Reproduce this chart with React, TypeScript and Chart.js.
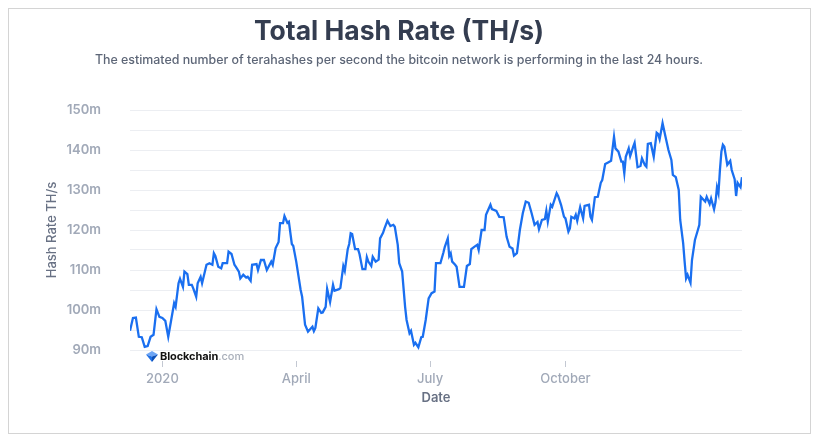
import React, { useEffect, useRef } from "react";
import { Chart, registerables } from "chart.js";

Chart.register(...registerables);

// Days since 10 Dec 2019
const days = [
  0, 2, 4, 6, 8, 10, 12, 14, 16, 18, 20, 22, 24, 26, 28, 30, 31, 33, 34, 36, 37, 39, 40, 42, 43, 45, 46, 48, 49,
  52, 54, 56, 57, 58, 60, 62, 63, 66, 67, 69, 71, 72, 74, 75, 77, 79, 80, 82, 83, 86, 87, 89, 91, 93, 96, 97, 99,
  101, 102, 104, 105, 107, 108, 110, 111, 113, 116, 117, 119, 121, 122, 124, 125, 126, 128, 130, 131, 133, 134,
  136, 138, 139, 142, 143, 145, 146, 148, 149, 150, 151, 153, 155, 156, 158, 160, 161, 162, 164, 165, 167, 169,
  170, 172, 173, 175, 177, 179, 180, 182, 183, 185, 187, 188, 190, 191, 193, 194, 196, 198, 199, 201, 203, 205,
  207, 208, 210, 211, 213, 214, 216, 217, 218, 219, 221, 222, 224, 227, 229, 231, 232, 234, 236, 237, 239, 241,
  242, 245, 246, 249, 251, 254, 256, 258, 260, 261, 263, 265, 267, 269, 271, 273, 275, 277, 278, 280, 282, 283,
  284, 286, 287, 290, 291, 293, 295, 296, 298, 299, 300, 302, 303, 304, 306, 308, 309, 312, 313, 314, 316, 318,
  320, 321, 323, 325, 327, 329, 330, 332, 334, 335, 336, 337, 339, 340, 342, 343, 345, 347, 348, 350, 351, 352,
  354, 356, 358, 359, 360, 362, 364, 366, 368, 369, 371, 373, 374, 376, 377, 378, 379, 381, 382, 384, 386, 387,
  388, 390, 391, 392, 394, 395, 397, 398, 399, 400, 401, 402, 403, 404, 406, 408, 409, 411, 412, 413, 415, 416,
];

// Hash rate, millions of TH/s
const hashRate = [
  94.8, 98, 98.1, 93.3, 93.2, 90.8, 91, 93.3, 93.8, 100.2, 98.3, 98, 97.3, 93.3, 97.5, 101.7, 100.8, 106.7, 107.8,
  105.8, 109.6, 109, 106.3, 106.3, 105.4, 103.3, 106.7, 108.3, 106.7, 111.3, 111.7, 111.3, 114.2, 113.5, 110.8,
  110.4, 111.7, 111.7, 114.6, 114, 111.3, 110.8, 109.6, 107.9, 108.8, 108.1, 108.3, 107.3, 111.3, 111.5, 110,
  112.5, 112.5, 110, 112.1, 111.3, 115.5, 117, 121.7, 121.7, 123.5, 121.8, 122.1, 116.5, 116, 112.1, 105, 103.3,
  96.3, 94.6, 95, 95.8, 94.7, 95.5, 100.4, 99.3, 99.4, 100.8, 105.3, 102, 106.3, 104.8, 105.2, 105.5, 111, 109.8,
  115.2, 116.5, 119.2, 119, 115.2, 115.2, 114, 110.2, 110.2, 113.2, 112.1, 111, 113.3, 112.1, 112.6, 117.9, 119.3,
  120.4, 122.3, 121, 121.3, 120.8, 116.3, 111.7, 109.6, 100.8, 97.5, 94.2, 94.8, 91.3, 91.8, 90.7, 93.2, 93.3,
  97.5, 102.9, 104.2, 104.6, 111.7, 111.7, 111.7, 114.3, 115.8, 117.9, 113.5, 114.2, 112.1, 111.3, 110.8, 105.8,
  105.8, 111, 111.5, 115.2, 115.8, 116.3, 115, 120, 120, 123.8, 126.3, 125.2, 124.8, 123.3, 123.2, 118.3, 115.8,
  115.4, 113.6, 114.2, 120, 124.2, 127.1, 126.8, 124.2, 121.3, 122, 120.2, 122.5, 122.7, 124.8, 122.1, 126.3,
  125.8, 129.2, 128.5, 126.3, 123.3, 122.9, 119.6, 120.4, 123.3, 122.9, 123.8, 122.3, 125.7, 122.9, 126, 126.3,
  123.3, 122.5, 128.2, 128.3, 131.8, 132.5, 136.5, 136.9, 137.3, 143.3, 140.4, 139.6, 137.1, 137.1, 134.2, 138.3,
  140.4, 138.5, 140.8, 141.8, 135.7, 136, 137.9, 136.2, 135.8, 141.5, 141.7, 138.3, 144.3, 144, 142.7, 146.7,
  143.3, 140, 137.5, 133.8, 133.2, 130, 122.5, 116.7, 112.1, 107.9, 108.8, 106.8, 112.5, 117.5, 120, 121.3,
  128.3, 127.5, 127.1, 128.3, 126.5, 127.9, 125.2, 127, 130.7, 129.2, 135, 139.6, 141.3, 140.8, 136.3, 137.3,
  135, 132.7, 128.5, 131.8, 130.7, 133.2,
];

const xTickDays = [22, 113, 204, 296];
const xTickLabels = ["2020", "April", "July", "October"];
const xMax = 416;
const yMin = 90;
const yMax = 150;
const yStep = 5;

const tickMarks = {
  id: "tickMarks",
  afterDraw(chart: any) {
    const { ctx, scales } = chart;
    const xs = scales.x;
    ctx.save();
    ctx.strokeStyle = "#c3c8d2";
    ctx.lineWidth = 1;
    xTickDays.forEach((d) => {
      const px = Math.round(xs.getPixelForValue(d)) + 0.5;
      ctx.beginPath();
      ctx.moveTo(px, 353);
      ctx.lineTo(px, 359);
      ctx.stroke();
    });
    ctx.restore();
  },
};

export default function App() {
  const ref = useRef<HTMLCanvasElement>(null);

  useEffect(() => {
    if (!ref.current) return;
    const chart = new Chart(ref.current, {
      type: "line",
      data: {
        datasets: [
          {
            data: days.map((d, i) => ({ x: d, y: hashRate[i] })),
            borderColor: "#1a6ff0",
            borderWidth: 2.3,
            pointRadius: 0,
            tension: 0,
            fill: false,
          },
        ],
      },
      options: {
        animation: false,
        responsive: false,
        maintainAspectRatio: false,
        layout: { padding: { left: 0, right: 69, top: 102, bottom: 0 } },
        plugins: {
          legend: { display: false },
          tooltip: { enabled: false },
        },
        scales: {
          x: {
            type: "linear",
            min: 0,
            max: xMax,
            afterBuildTicks: (s: any) => {
              s.ticks = xTickDays.map((v) => ({ value: v }));
            },
            afterFit: (s: any) => {
              s.height = 84;
            },
            ticks: {
              autoSkip: false,
              maxRotation: 0,
              padding: 21,
              color: "#a1a9b8",
              font: { family: "Inter", size: 13, weight: "500" },
              callback: (v: any) => {
                const i = xTickDays.indexOf(Number(v));
                return i >= 0 ? xTickLabels[i] : "";
              },
            },
            grid: { display: false, drawTicks: false },
            border: { display: false },
            title: {
              display: true,
              text: "Date",
              color: "#687184",
              font: { family: "Inter", size: 13, weight: "600" },
              padding: { top: 0, bottom: 28 },
            },
          },
          y: {
            min: yMin,
            max: yMax,
            afterFit: (s: any) => {
              s.width = 122;
            },
            ticks: {
              stepSize: yStep,
              padding: 29,
              color: "#a1a9b8",
              font: { family: "Inter", size: 13, weight: "600" },
              callback: (v: any) => (Number(v) % 10 === 0 ? `${v}m` : ""),
            },
            grid: { color: "#eceef2", lineWidth: 1, drawTicks: false },
            border: { display: false },
            title: {
              display: true,
              text: "Hash Rate TH/s",
              color: "#687184",
              font: { family: "Inter", size: 13, weight: "500" },
              padding: { top: 36, bottom: 0 },
            },
          },
        },
      },
      plugins: [tickMarks],
    } as any);
    return () => chart.destroy();
  }, []);

  return (
    <div style={{ position: "relative", width: 803, height: 426, fontFamily: "Inter, sans-serif" }}>
      <div
        style={{
          position: "absolute",
          left: 0,
          top: 0,
          width: 803,
          height: 426,
          background: "#fff",
          border: "1px solid #d4d4d4",
          boxSizing: "border-box",
          boxShadow: "0 1px 7px 2px rgba(0,0,0,0.4)",
        }}
      />
      <canvas
        ref={ref}
        width={803}
        height={426}
        style={{ position: "absolute", left: 0, top: 0, width: 803, height: 426 }}
      />
      <div
        style={{
          position: "absolute",
          left: 0,
          top: 4,
          width: 782,
          textAlign: "center",
          fontSize: 26.5,
          fontWeight: 700,
          color: "#343d50",
          lineHeight: "36px",
          whiteSpace: "nowrap",
        }}
      >
        Total Hash Rate (TH/s)
      </div>
      <div
        style={{
          position: "absolute",
          left: 0,
          top: 43,
          width: 782,
          textAlign: "center",
          fontSize: 12.4,
          fontWeight: 500,
          color: "#5d6677",
          lineHeight: "18px",
          whiteSpace: "nowrap",
        }}
      >
        The estimated number of terahashes per second the bitcoin network is performing in the last 24 hours.
      </div>
      <div
        style={{
          position: "absolute",
          left: 138,
          top: 340,
          height: 16,
          display: "flex",
          alignItems: "center",
          whiteSpace: "nowrap",
        }}
      >
        <svg width="12" height="11" viewBox="0 0 12 11" style={{ marginRight: 2 }}>
          <polygon points="6,0 12,3.5 6,5.5 0,3.5" fill="#6da5f5" />
          <polygon points="0,3.5 6,5.5 6,11" fill="#1f6fe5" />
          <polygon points="12,3.5 6,5.5 6,11" fill="#0b4fb8" />
        </svg>
        <span style={{ fontSize: 11, fontWeight: 700, color: "#111", letterSpacing: -0.1 }}>Blockchain</span>
        <span style={{ fontSize: 11, fontWeight: 500, color: "#a9afba" }}>.com</span>
      </div>
    </div>
  );
}
